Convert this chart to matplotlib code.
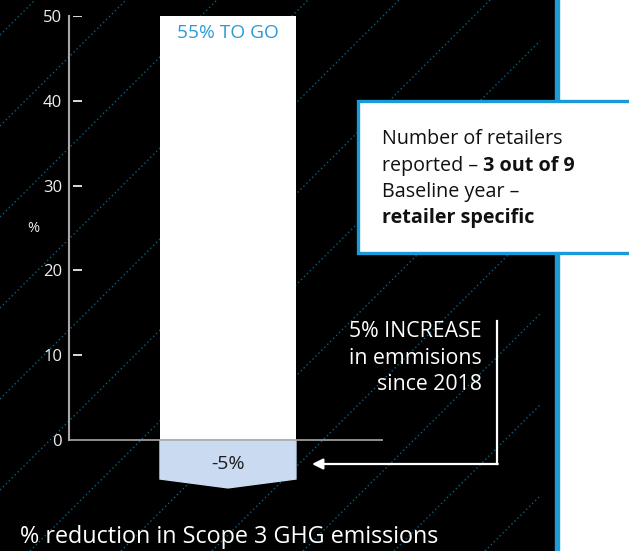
import matplotlib
matplotlib.use("Agg")
import matplotlib.pyplot as plt
from matplotlib.patches import Rectangle, Polygon

plt.rcParams['font.family'] = ['Open Sans', 'DejaVu Sans']

# scope 3 reduction: target vs achieved (%)
target = 50
achieved = -5
to_go = target - achieved
yticks = [0, 10, 20, 30, 40, 50]
base_year = 2018
n_reported = 3
n_retailers = 9

W, H = 629, 551
fig = plt.figure(figsize=(W / 100, H / 100), dpi=100)
fig.patch.set_facecolor('white')

# background layer in pixel units
bg = fig.add_axes([0, 0, 1, 1])
bg.set_xlim(0, W)
bg.set_ylim(H, 0)
bg.axis('off')
bg.add_patch(Rectangle((0, 0), 555, H, color='black', zorder=0))

# dotted diagonal hatching
for c in range(35, 540 + H, 91):
    x0 = max(0, c - H)
    x1 = min(540, c)
    bg.plot([x0, x1], [c - x0, c - x1], ls=(0, (1, 2)), color='#0b5f86', lw=1, zorder=1)

bg.add_patch(Rectangle((555, 0), 4, H, color='#1f9bd7', zorder=2))

# info box
box_fs = 14.2
bg.add_patch(Rectangle((358, 100.5), 300, 152, facecolor='white', edgecolor='#1a9ad6', lw=2.4, zorder=3))
bg.text(382, 144, "Number of retailers", fontsize=box_fs, color='#111111', va='baseline', zorder=4)
t2 = bg.text(382, 170.7, "reported – ", fontsize=box_fs, color='#111111', va='baseline', zorder=4)
bg.text(382, 196.7, "Baseline year –", fontsize=box_fs, color='#111111', va='baseline', zorder=4)
bg.text(382, 223.5, "retailer specific", fontsize=box_fs, color='#111111', va='baseline',
        fontweight='bold', zorder=4)

# increase annotation with bracket arrow
note = [f"{-achieved}% INCREASE", "in emmisions", f"since {base_year}"]
for line, yb in zip(note, [337, 363.5, 390]):
    bg.text(482, yb, line, ha='right', va='baseline', color='white', fontsize=15.3, zorder=4)
bg.plot([497, 497], [321, 464], color='white', lw=1.6, zorder=4)
bg.annotate('', xy=(312, 464), xytext=(497.8, 464),
            arrowprops=dict(arrowstyle='-|>', color='white', lw=1.6, mutation_scale=16, shrinkA=0, shrinkB=0),
            zorder=4)

# main chart
ax = fig.add_axes([69 / W, 1 - 500 / H, 314 / W, 484 / H])
ax.patch.set_alpha(0)
ax.set_xlim(-1.169, 1.140)
ax.set_ylim(-60 / 8.48, 50)

ax.bar(0, target, width=1, color='white', zorder=2)
ax.add_patch(Polygon([(-0.5, 0), (0.5, 0), (0.5, achieved + 0.4), (0, achieved - 0.65),
                      (-0.5, achieved + 0.4)], closed=True, color='#c9daf1', zorder=2))
ax.axhline(0, color='#a8a8a8', lw=1.2, zorder=3)

for s in ['top', 'right', 'bottom']:
    ax.spines[s].set_visible(False)
ax.spines['left'].set_bounds(0, target)
ax.spines['left'].set_color('#a8a8a8')
ax.spines['left'].set_linewidth(1.5)
ax.set_xticks([])
ax.set_yticks(yticks)
ax.tick_params(axis='y', length=0, pad=5, labelcolor='#eeeeee', labelsize=12)
ax.hlines(yticks[1:], 4 / 314, 13 / 314, transform=ax.get_yaxis_transform(), color='white', lw=1.2)

ax.text(-36 / 314, 24.9, "%", transform=ax.get_yaxis_transform(), color='#eeeeee',
        fontsize=10.5, ha='center', va='center')
ax.text(0, 47.37, f"{to_go}% TO GO", ha='center', va='baseline', color='#2b9bd6', fontsize=13.8, zorder=4)
ax.text(0, -3.46, f"{achieved}%", ha='center', va='baseline', color='#1e1e1e',
        fontsize=14, zorder=4)

fig.text(20 / W, 1 - 543 / H, "% reduction in Scope 3 GHG emissions", color='white', fontsize=16.8,
         va='baseline')

# bold part after "reported – "
fig.canvas.draw()
bb = t2.get_window_extent()
xr = bg.transData.inverted().transform((bb.x1, bb.y0))[0]
bg.text(xr, 170.7, f"{n_reported} out of {n_retailers}", fontsize=box_fs, color='#111111',
        va='baseline', fontweight='bold', zorder=4)

fig.savefig("out.png", dpi=100, facecolor=fig.get_facecolor())
